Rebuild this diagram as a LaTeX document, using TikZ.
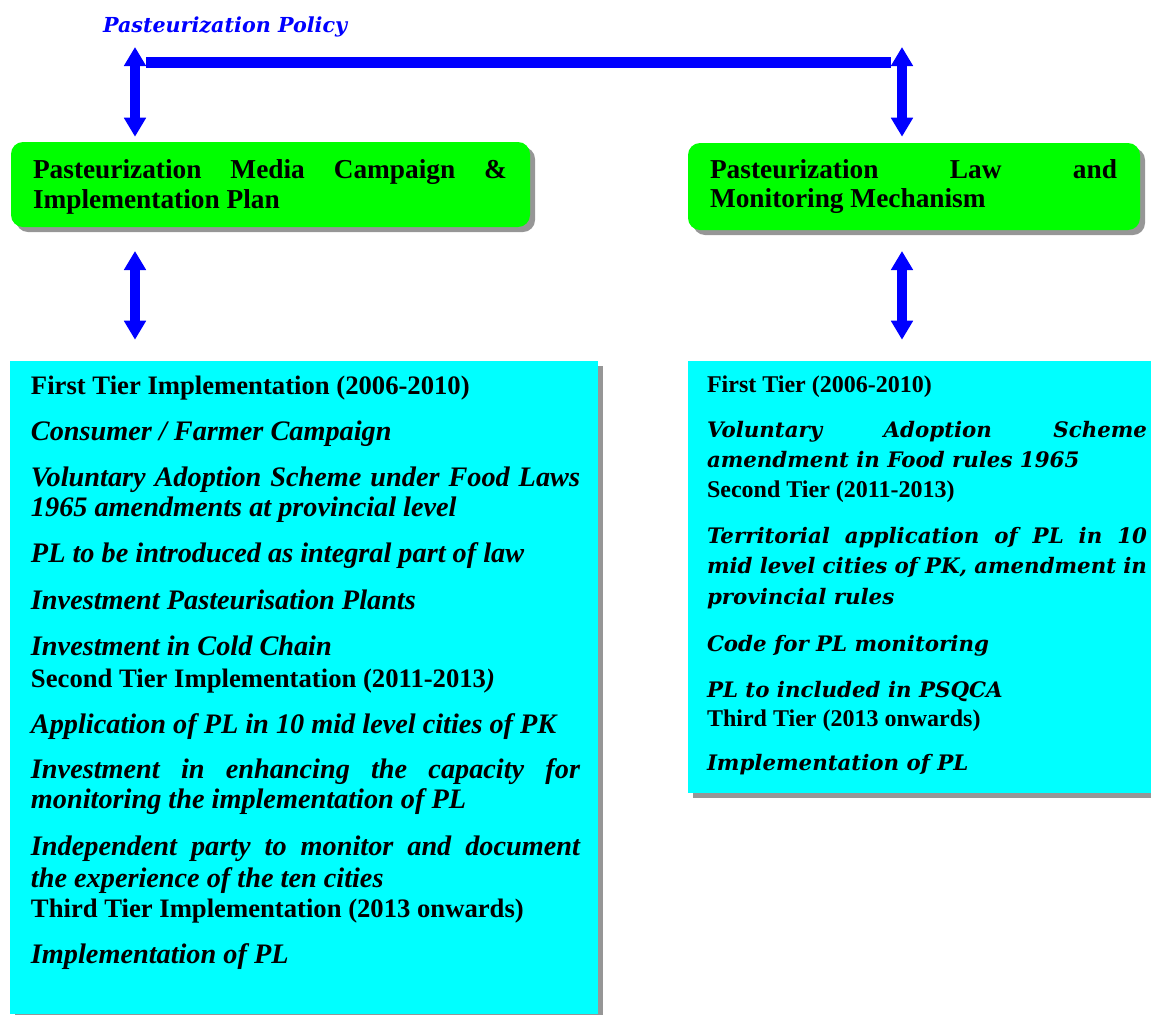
\documentclass[tikz,border=0pt]{standalone}
\usepackage{fontspec}
\setmainfont{Liberation Serif}
\newfontfamily\bk{DejaVu Serif}
\usetikzlibrary{arrows.meta,shadows,calc}
\definecolor{pblue}{RGB}{0,0,255}
\definecolor{pgreen}{RGB}{0,255,0}
\definecolor{pcyan}{RGB}{0,255,255}
\definecolor{pshadow}{RGB}{150,150,150}
\begin{document}
\begin{tikzpicture}[x=0.75pt,y=-0.75pt,
  txt/.style={anchor=base west,inner sep=0pt,outer sep=0pt},
  ttlstyle/.style={txt,text=pblue,font=\bk\fontsize{15.5}{18}\selectfont\bfseries\itshape},
  ghead/.style={txt,font=\fontsize{20.5}{24}\selectfont\bfseries},
  lhead/.style={txt,font=\fontsize{20}{24}\selectfont\bfseries},
  litem/.style={txt,font=\fontsize{21.2}{25}\selectfont\bfseries\itshape},
  rhead/.style={txt,font=\fontsize{18}{22}\selectfont\bfseries},
  ritem/.style={txt,font=\bk\fontsize{16}{20}\selectfont\bfseries\itshape},
  boxshadow/.style={general shadow={fill=pshadow,shadow xshift=3.75pt,shadow yshift=-3.75pt}},
  gbox/.style={fill=pgreen,rounded corners=9pt,inner sep=0pt,boxshadow},
  cbox/.style={fill=pcyan,inner sep=0pt,boxshadow},
  dbl/.style={draw=pblue,line width=7.5pt,
    {Triangle[width=15.75pt,length=14.25pt]}-{Triangle[width=15.75pt,length=14.25pt]}},
  bar/.style={draw=pblue,line width=8.25pt}
]
\useasboundingbox (0,0) rectangle (1151,1014);

% boxes
\node[gbox,minimum width=389.25pt,minimum height=63.75pt] (gl) at (270.5,184.5) {};
\node[gbox,minimum width=339pt,minimum height=65.25pt] (gr) at (914,186.5) {};
\node[cbox,minimum width=441pt,minimum height=489.75pt] (cl) at (304,687.5) {};
\node[cbox,minimum width=350.25pt,minimum height=324pt] (cr) at (921.5,577) {};

% title and top connectors
\node[ttlstyle] (ttl) at (103,32) {Pasteurization Policy};
\coordinate (pl) at (135,47);
\coordinate (pr) at (902,47);
\coordinate (bs) at (146,62.5);
\coordinate (be) at (891,62.5);
\draw[bar] (bs) -- (be);
\draw[dbl] (pl) -- ($(pl |- gl.north)+(0,-5)$);
\draw[dbl] (pr) -- ($(pr |- gr.north)+(0,-6)$);

% lower connectors
\coordinate (ql) at (135,251);
\coordinate (qr) at (902,251);
\draw[dbl] (ql) -- ($(ql |- cl.north)+(0,-21)$);
\draw[dbl] (qr) -- ($(qr |- cr.north)+(0,-21)$);

% green box texts
\node[ghead] (gl1) at (33,178) {\makebox[355.5pt][s]{Pasteurization Media Campaign \&}};
\node[ghead] (gl2) at (33,208) {Implementation Plan};
\node[ghead] (gr1) at (710,178) {\makebox[305.25pt][s]{Pasteurization Law and}};
\node[ghead] (gr2) at (710,207) {Monitoring Mechanism};

% left column
\node[lhead] (l1) at (31,394) {First Tier Implementation (2006-2010)};
\node[litem] (l2) at (31,440) {Consumer / Farmer Campaign};
\node[litem] (l3) at (31,486) {\makebox[411.75pt][s]{Voluntary Adoption Scheme under Food Laws}};
\node[litem] (l4) at (31,516) {1965 amendments at provincial level};
\node[litem] (l5) at (31,562) {PL to be introduced as integral part of law};
\node[litem] (l6) at (31,609) {Investment Pasteurisation Plants};
\node[litem] (l7) at (31,655) {Investment in Cold Chain};
\node[lhead] (l8) at (31,687) {Second Tier Implementation (2011-2013{\itshape)}};
\node[litem] (l9) at (31,733) {Application of PL in 10 mid level cities of PK};
\node[litem] (l10) at (31,778) {\makebox[411.75pt][s]{Investment in enhancing the capacity for}};
\node[litem] (l11) at (31,808) {monitoring the implementation of PL};
\node[litem] (l12) at (31,855) {\makebox[411.75pt][s]{Independent party to monitor and document}};
\node[litem] (l13) at (31,887) {the experience of the ten cities};
\node[lhead] (l14) at (31,917) {Third Tier Implementation (2013 onwards)};
\node[litem] (l15) at (31,963) {Implementation of PL};

% right column
\node[rhead] (r1) at (707,392) {First Tier (2006-2010)};
\node[ritem] (r2) at (707,437) {\makebox[330pt][s]{Voluntary Adoption Scheme}};
\node[ritem] (r3) at (707,467) {amendment in Food rules 1965};
\node[rhead] (r4) at (707,497) {Second Tier (2011-2013)};
\node[ritem] (r5) at (707,543) {\makebox[330pt][s]{Territorial application of PL in 10}};
\node[ritem] (r6) at (707,573) {\makebox[330pt][s]{mid level cities of PK, amendment in}};
\node[ritem] (r7) at (707,604) {provincial rules};
\node[ritem] (r8) at (707,651) {Code for PL monitoring};
\node[ritem] (r9) at (707,697) {PL to included in PSQCA};
\node[rhead] (r10) at (707,726) {Third Tier (2013 onwards)};
\node[ritem] (r11) at (707,770) {Implementation of PL};
\end{tikzpicture}
\end{document}
